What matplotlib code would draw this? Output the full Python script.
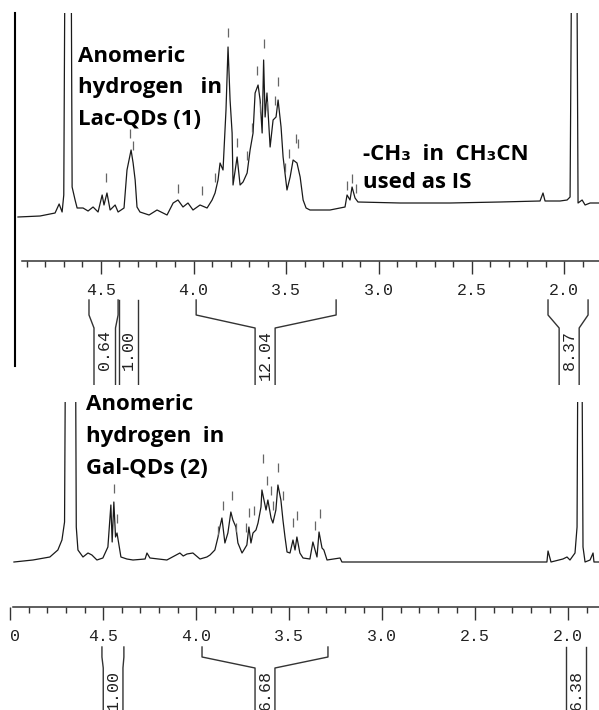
import matplotlib
matplotlib.use("Agg")
import matplotlib.pyplot as plt
from matplotlib.ticker import MultipleLocator, FixedLocator
from matplotlib.lines import Line2D

# spectrum 1 (Lac-QDs), ppm vs intensity
lac_ppm = [4.947, 4.828, 4.747, 4.725, 4.709, 4.700, 4.690, 4.663, 4.655, 4.639,
           4.628, 4.596, 4.569, 4.542, 4.515, 4.493, 4.483, 4.467, 4.450, 4.423,
           4.407, 4.375, 4.359, 4.337, 4.326, 4.315, 4.305, 4.289, 4.240, 4.197,
           4.143, 4.110, 4.084, 4.057, 4.030, 4.003, 3.965, 3.927, 3.900, 3.884,
           3.868, 3.857, 3.841, 3.825, 3.814, 3.803, 3.792, 3.787, 3.765, 3.749,
           3.733, 3.711, 3.695, 3.679, 3.668, 3.652, 3.641, 3.630, 3.622, 3.614,
           3.604, 3.587, 3.571, 3.555, 3.544, 3.528, 3.517, 3.496, 3.479, 3.463,
           3.442, 3.425, 3.409, 3.393, 3.372, 3.264, 3.183, 3.172, 3.156, 3.145,
           3.129, 3.113, 2.886, 2.616, 2.347, 2.131, 2.115, 2.104, 2.023, 1.985,
           1.969, 1.956, 1.936, 1.926, 1.904, 1.888, 1.861, 1.813]
lac_int = [3, 4, 7, 16, 8, 25, 400, 400, 33, 20,
           12, 12, 9, 13, 8, 25, 15, 27, 10, 15,
           8, 12, 50, 70, 57, 40, 13, 8, 5, 10,
           5, 17, 20, 13, 17, 10, 15, 12, 20, 27,
           40, 57, 50, 110, 173, 120, 87, 35, 63, 35,
           38, 47, 70, 87, 127, 135, 120, 87, 160, 103,
           127, 73, 100, 103, 120, 93, 63, 30, 43, 60,
           57, 43, 20, 12, 10, 10, 13, 25, 20, 33,
           22, 18, 17, 17, 18, 19, 27, 19, 19, 20,
           23, 400, 400, 17, 20, 15, 17, 17]

# spectrum 2 (Gal-QDs)
gal_ppm = [4.980, 4.878, 4.787, 4.744, 4.722, 4.708, 4.698, 4.653, 4.645, 4.636,
           4.609, 4.582, 4.561, 4.534, 4.502, 4.475, 4.459, 4.452, 4.443, 4.434,
           4.426, 4.405, 4.373, 4.340, 4.275, 4.265, 4.249, 4.158, 4.088, 4.070,
           4.050, 4.018, 3.980, 3.943, 3.926, 3.900, 3.883, 3.873, 3.862, 3.846,
           3.830, 3.814, 3.803, 3.787, 3.776, 3.754, 3.744, 3.728, 3.717, 3.706,
           3.695, 3.679, 3.668, 3.652, 3.647, 3.636, 3.625, 3.615, 3.598, 3.588,
           3.572, 3.561, 3.545, 3.534, 3.523, 3.512, 3.496, 3.480, 3.469, 3.459,
           3.443, 3.426, 3.389, 3.373, 3.351, 3.340, 3.324, 3.314, 3.297, 3.227,
           3.217, 3.174, 2.636, 2.115, 2.109, 2.093, 2.029, 2.007, 1.991, 1.964,
           1.953, 1.944, 1.932, 1.921, 1.910, 1.883, 1.867, 1.862, 1.835]
gal_int = [0, 2, 5, 12, 22, 40, 400, 400, 35, 12,
           5, 9, 7, 2, 4, 15, 57, 20, 60, 25,
           29, 5, 3, 2, 3, 9, 4, 2, 9, 6,
           8, 9, 3, 5, 7, 12, 25, 35, 44, 19,
           29, 50, 42, 35, 19, 9, 12, 17, 35, 19,
           29, 32, 39, 55, 72, 62, 52, 62, 44, 39,
           52, 77, 62, 42, 25, 10, 9, 22, 12, 25,
           9, 4, 3, 20, 5, 30, 14, 12, 2, 4,
           0, 0, 0, 0, 11, 0, 3, 5, 2, 9,
           35, 400, 400, 15, 0, 2, 9, 0, 0]

# peak-pick marks (position, level of lower end)
lac_mark_ppm = [4.472, 4.342, 4.326, 4.084, 3.954, 3.884, 3.814, 3.765, 3.711, 3.684,
                3.657, 3.641, 3.620, 3.604, 3.560, 3.544, 3.506, 3.485, 3.447, 3.436,
                3.172, 3.145, 3.123]
lac_mark_lvl = [38, 82, 70, 27, 25, 38, 183, 73, 60, 88,
                145, 108, 172, 110, 115, 134, 48, 62, 77, 72,
                30, 37, 27]
gal_mark_ppm = [4.443, 4.426, 3.883, 3.856, 3.808, 3.787, 3.733, 3.717, 3.690, 3.641,
                3.620, 3.598, 3.588, 3.561, 3.534, 3.480, 3.459, 3.362, 3.335]
gal_mark_lvl = [69, 39, 27, 52, 62, 30, 30, 45, 47, 99,
                77, 67, 52, 90, 62, 35, 42, 32, 44]

lac_tick_vals = [4.5, 4.0, 3.5, 3.0, 2.5, 2.0]
lac_tick_labels = ["4.5", "4.0", "3.5", "3.0", "2.5", "2.0"]
gal_tick_vals = [5.0, 4.5, 4.0, 3.5, 3.0, 2.5, 2.0]
gal_tick_labels = ["0", "4.5", "4.0", "3.5", "3.0", "2.5", "2.0"]

# integrals: region edges, label box edges, value
lac_int_left = [4.564, 4.400, 3.986, 2.088]
lac_int_right = [4.407, 4.299, 3.231, 1.872]
lac_box_left = [4.537, 4.400, 3.668, 2.028]
lac_box_right = [4.421, 4.299, 3.560, 1.920]
lac_int_labels = ["0.64", "1.00", "12.04", "8.37"]

gal_int_left = [4.507, 3.969, 2.012]
gal_int_right = [4.389, 3.292, 1.905]
gal_box_left = [4.500, 3.684, 2.012]
gal_box_right = [4.394, 3.577, 1.905]
gal_int_labels = ["1.00", "6.68", "6.38"]

W, H = 599, 710
fig = plt.figure(figsize=(W / 100, H / 100), dpi=100)


def panel(ax, ppm, inten, mppm, mlvl, axis_y, spine_from, ticks, labels, integ, br):
    ax.plot(ppm, inten, color="#1a1a1a", lw=0.9)
    ax.vlines(mppm, mlvl, [m + 9 for m in mlvl], color="#666666", lw=0.9)
    for s in ["top", "left", "right"]:
        ax.spines[s].set_visible(False)
    ax.spines["bottom"].set_position(("data", axis_y))
    ax.spines["bottom"].set_bounds(spine_from, ax.get_xlim()[1])
    ax.spines["bottom"].set_color("#333333")
    ax.spines["bottom"].set_linewidth(1.1)
    ax.set_yticks([])
    ax.set_xticks(ticks, labels)
    minor = [round(2.0 + 0.1 * i, 1) for i in range(-2, 31)]
    ax.xaxis.set_minor_locator(FixedLocator([m for m in minor if m <= spine_from]))
    ax.tick_params(which="major", direction="out", length=9, width=1,
                   color="#333333", pad=7, labelsize=12, labelcolor="#222222")
    ax.tick_params(which="minor", direction="out", length=4, width=1, color="#333333")
    for lab in ax.get_xticklabels():
        lab.set_fontfamily("Liberation Mono")
    y0, y1, y2, yb = br
    for l, r, bl, brr, txt in zip(*integ):
        ax.plot([l, l, bl, bl], [y0, y1, y2, yb], color="#333333", lw=1)
        ax.plot([r, r, brr, brr], [y0, y1, y2, yb], color="#333333", lw=1)
        ax.text((bl + brr) / 2, y2 - 2, txt, rotation=90, ha="center", va="top",
                fontfamily="Liberation Mono", fontsize=12, color="#222222", clip_on=True)
    ax.patch.set_alpha(0)


ax1 = fig.add_axes([0, 1 - 385 / H, 1, (385 - 13) / H])
ax1.set_xlim(5.044, 1.813)
ax1.set_ylim(-165, 207)
panel(ax1, lac_ppm, lac_int, lac_mark_ppm, lac_mark_lvl, -41, 4.925,
      lac_tick_vals, lac_tick_labels,
      (lac_int_left, lac_int_right, lac_box_left, lac_box_right, lac_int_labels),
      (-80, -95, -108, -170))

ax2 = fig.add_axes([0, 0, 1, (710 - 402) / H])
ax2.set_xlim(5.055, 1.835)
ax2.set_ylim(-148, 160)
panel(ax2, gal_ppm, gal_int, gal_mark_ppm, gal_mark_lvl, -45, 4.986,
      gal_tick_vals, gal_tick_labels,
      (gal_int_left, gal_int_right, gal_box_left, gal_box_right, gal_int_labels),
      (-85, -95, -106, -150))
ax2.get_xticklabels()[0].set_horizontalalignment("left")

# left border of the upper panel
fig.add_artist(Line2D([15 / W, 15 / W], [1 - 13 / H, 1 - 366 / H], color="black", lw=1.5))

fam = ["Open Sans", "DejaVu Sans"]
kw = dict(fontfamily=fam, fontweight="bold", fontsize=16, va="baseline", ha="left")
fig.text(78 / W, 1 - 62 / H, "Anomeric", **kw)
fig.text(78 / W, 1 - 93.5 / H, "hydrogen   in", **kw)
fig.text(78 / W, 1 - 125 / H, "Lac-QDs (1)", **kw)
fig.text(363 / W, 1 - 160 / H, "-CH\u2083  in  CH\u2083CN", **kw)
fig.text(363 / W, 1 - 188 / H, "used as IS", **kw)
fig.text(86 / W, 1 - 410 / H, "Anomeric", **kw)
fig.text(86 / W, 1 - 442 / H, "hydrogen  in", **kw)
fig.text(86 / W, 1 - 474 / H, "Gal-QDs (2)", **kw)

fig.savefig("out.png", dpi=100)
